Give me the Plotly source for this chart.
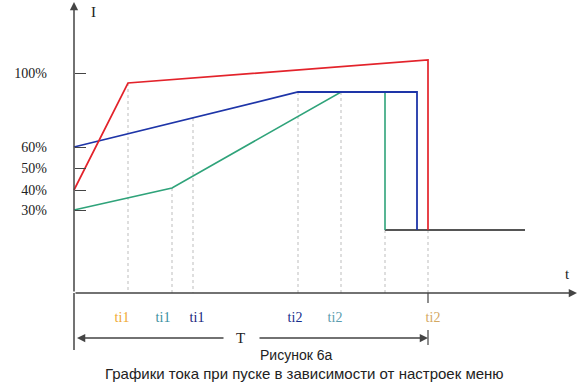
import plotly.graph_objects as go

# ---- data (schematic units: t to the right of origin, I above origin) ----
red_t = [0, 54, 354, 354]
red_i = [103, 210, 233, 63]
blue_t = [0, 224, 343, 343]
blue_i = [146, 201, 201, 63]
green_t = [0, 98, 267, 311, 311]
green_i = [83, 105, 201, 201, 63]
rest_t = [311, 451]
rest_i = [63, 63]

# dotted guide lines: (t, top level)
guide_t = [54, 98, 119, 224, 267, 311, 354]
guide_top = [210, 105, 175, 201, 201, 63, 63]

y_tick_vals = [220, 146, 125, 103, 83]
y_tick_text = ["100%", "60%", "50%", "40%", "30%"]

x_tick_vals = [48, 89, 123, 221, 261, 359]
x_tick_names = ["ti1", "ti1", "ti1", "ti2", "ti2", "ti2"]
x_tick_colors = ["#F0A830", "#3A8FA0", "#16237A", "#162E8C", "#5A9CAE", "#D4A862"]

T_end = 354
caption1 = "Рисунок 6а"
caption2 = "Графики тока при пуске в зависимости от настроек меню"

RED = "#E3232B"
BLUE = "#1E35A8"
GREEN = "#2FA37A"
AXIS = "#444444"

fig = go.Figure()

# dotted guides
gx, gy = [], []
for t, top in zip(guide_t, guide_top):
    gx += [t, t, None]
    gy += [top, 0, None]
fig.add_trace(go.Scatter(x=gx, y=gy, mode="lines",
                         line=dict(color="#BDBDBD", width=1, dash="dot"),
                         hoverinfo="skip"))

fig.add_trace(go.Scatter(x=rest_t, y=rest_i, mode="lines",
                         line=dict(color="#555555", width=1.8), hoverinfo="skip"))
fig.add_trace(go.Scatter(x=green_t, y=green_i, mode="lines",
                         line=dict(color=GREEN, width=1.6), hoverinfo="skip"))
fig.add_trace(go.Scatter(x=blue_t, y=blue_i, mode="lines",
                         line=dict(color=BLUE, width=1.8), hoverinfo="skip"))
fig.add_trace(go.Scatter(x=red_t, y=red_i, mode="lines",
                         line=dict(color=RED, width=1.7), hoverinfo="skip"))

# axis lines without arrows / small ticks
fig.add_shape(type="line", x0=0, x1=0, y0=-57, y1=0, line=dict(color=AXIS, width=1.5))
fig.add_shape(type="line", x0=T_end, x1=T_end, y0=0, y1=-10, line=dict(color=AXIS, width=1.2))
fig.add_shape(type="line", x0=T_end, x1=T_end, y0=-37, y1=-52, line=dict(color=AXIS, width=1.2))

def arrow(x, y, ax, ay):
    fig.add_annotation(x=x, y=y, ax=ax, ay=ay, xref="x", yref="y", axref="x", ayref="y",
                       text="", showarrow=True, arrowhead=2, arrowsize=1.1,
                       arrowwidth=1.5, arrowcolor=AXIS)

arrow(0, 291, 0, 0)        # I axis
arrow(503, 0, 0, 0)        # t axis
arrow(3, -45, 151, -45)    # T left
arrow(T_end, -45, 184, -45)  # T right

serif = "Liberation Serif"
fig.add_annotation(x=19, y=281, text="I", showarrow=False,
                   font=dict(family=serif, size=15, color="#222"))
fig.add_annotation(x=493, y=19, text="t", showarrow=False,
                   font=dict(family=serif, size=15, color="#222"))
fig.add_annotation(x=166, y=-45, text="T", showarrow=False,
                   font=dict(family=serif, size=15, color="#222"))
fig.add_annotation(x=222, y=-62, text=caption1, showarrow=False,
                   font=dict(family="Liberation Sans", size=14, color="#222"))
fig.add_annotation(x=230, y=-80, text=caption2, showarrow=False,
                   font=dict(family="Liberation Sans", size=15, color="#222"))

x_tick_text = ['<span style="color:%s">%s</span>' % (c, n)
               for n, c in zip(x_tick_names, x_tick_colors)]

fig.update_layout(
    width=583, height=384,
    margin=dict(l=0, r=0, t=0, b=0),
    paper_bgcolor="white", plot_bgcolor="white",
    showlegend=False, hovermode=False,
    xaxis=dict(range=[-74, 509], showgrid=False, zeroline=False, showline=False,
               anchor="free", position=91 / 384, ticks="",
               tickvals=x_tick_vals, ticktext=x_tick_text,
               tickfont=dict(family=serif, size=14), ticklabelstandoff=14),
    yaxis=dict(range=[-91, 293], showgrid=False, zeroline=False, showline=False,
               anchor="free", position=74 / 583, ticks="inside", ticklen=11,
               tickwidth=1.3, tickcolor=AXIS,
               tickvals=y_tick_vals, ticktext=y_tick_text,
               tickfont=dict(family=serif, size=14, color="#222"),
               ticklabelstandoff=27),
)

fig.write_html("out.html", config={"displayModeBar": False},
               post_script="document.body.style.margin='0';")
